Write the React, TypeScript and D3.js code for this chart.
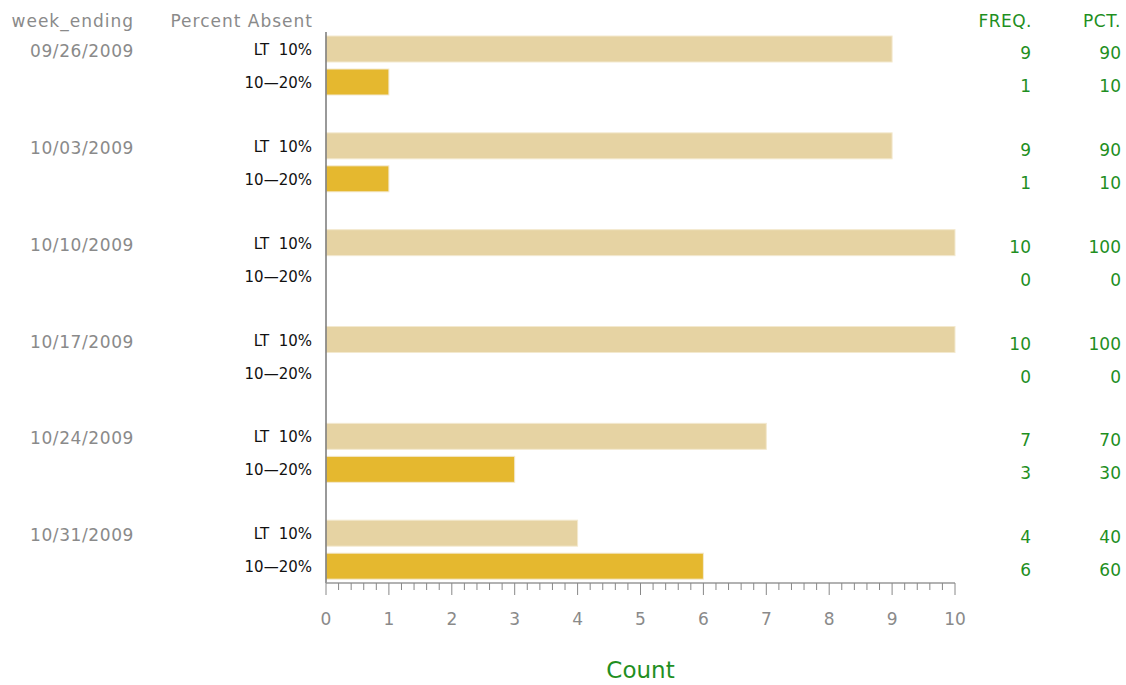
import React from "react";
import * as d3 from "d3";

const weeks = ["09/26/2009", "10/03/2009", "10/10/2009", "10/17/2009", "10/24/2009", "10/31/2009"];
const levels = ["LT  10%", "10\u201420%"];
const countLT = [9, 9, 10, 10, 7, 4];
const count1020 = [1, 1, 0, 0, 3, 6];
const pctLT = [90, 90, 100, 100, 70, 40];
const pct1020 = [10, 10, 0, 0, 30, 60];
const xTicks = [0, 1, 2, 3, 4, 5, 6, 7, 8, 9, 10];

const W = 1126, H = 685;
const FONT = "'DejaVu Sans', sans-serif";
const GRAY = "#8a8a8a";
const GREEN = "#1f8f1f";
const COLORS = ["#e6d3a3", "#e5b82f"];

export default function App() {
  const x = d3.scaleLinear().domain([0, 10]).range([326, 955]);
  const yGroup = d3.scaleBand<number>().domain(d3.range(weeks.length)).range([36, 617]).paddingInner(0).paddingOuter(0);
  const barH = 26;
  const barGap = 7;
  const rows: { wi: number; li: number; v: number; pct: number; y: number }[] = [];
  weeks.forEach((_, wi) => {
    const y0 = yGroup(wi)!;
    rows.push({ wi, li: 0, v: countLT[wi], pct: pctLT[wi], y: y0 });
    rows.push({ wi, li: 1, v: count1020[wi], pct: pct1020[wi], y: y0 + barH + barGap });
  });
  const axisY = 583;
  const minor = d3.range(0, 10.0001, 0.2);

  return (
    <svg width={W} height={H} style={{ position: "absolute", left: 0, top: 0 }} fontFamily={FONT}>
      <text x={134} y={27} textAnchor="end" fontSize={17} fill={GRAY} letterSpacing={1}>week_ending</text>
      <text x={313} y={27} textAnchor="end" fontSize={17} fill={GRAY} letterSpacing={1}>Percent Absent</text>
      <text x={1032} y={27} textAnchor="end" fontSize={17} fill={GREEN} letterSpacing={0.5}>FREQ.</text>
      <text x={1121} y={27} textAnchor="end" fontSize={17} fill={GREEN} letterSpacing={0.5}>PCT.</text>
      {weeks.map((w, wi) => (
        <text key={w} x={134} y={yGroup(wi)! + barH / 2 + 8} textAnchor="end" fontSize={17} fill={GRAY} letterSpacing={0.6}>{w}</text>
      ))}
      {rows.map((r, i) => (
        <g key={i}>
          {r.v > 0 && (
            <rect x={x(0)} y={r.y} width={x(r.v) - x(0)} height={barH} fill={COLORS[r.li]} stroke="#f3e9cf" strokeWidth={1} />
          )}
          <text x={312} y={r.y + barH / 2 + 6} textAnchor="end" fontSize={15} fill="#111" style={{ whiteSpace: "pre" }}>{levels[r.li]}</text>
          <text x={1031} y={r.y + barH / 2 + 10} textAnchor="end" fontSize={17} fill={GREEN}>{r.v}</text>
          <text x={1121} y={r.y + barH / 2 + 10} textAnchor="end" fontSize={17} fill={GREEN}>{r.pct}</text>
        </g>
      ))}
      <line x1={x(0)} x2={x(0)} y1={32} y2={axisY} stroke="#777" strokeWidth={1.5} />
      <line x1={x(0)} x2={x(10)} y1={axisY} y2={axisY} stroke="#999" strokeWidth={1.5} />
      {minor.map((t, i) => (
        <line key={i} x1={x(t)} x2={x(t)} y1={axisY} y2={axisY + (i % 5 === 0 ? 12 : 7)} stroke="#888" strokeWidth={1} />
      ))}
      {xTicks.map((t) => (
        <text key={t} x={x(t)} y={625} textAnchor="middle" fontSize={17} fill={GRAY}>{t}</text>
      ))}
      <text x={x(5)} y={678} textAnchor="middle" fontSize={23} fill={GREEN}>Count</text>
    </svg>
  );
}
